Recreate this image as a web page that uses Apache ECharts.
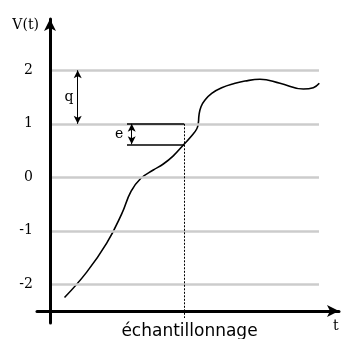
<!DOCTYPE html>
<html>
<head>
<meta charset="utf-8">
<script src="https://cdn.jsdelivr.net/npm/echarts@6/dist/echarts.min.js"></script>
<style>
html,body{margin:0;padding:0;background:#fff;}
#c{width:345px;height:339px;}
</style>
</head>
<body>
<div id="c"></div>
<script>
// ---- data ----
const curveT = [0.502, 1.270, 1.962, 2.481, 2.803, 3.138, 3.574, 3.920, 4.266, 4.637, 4.903, 5.076, 5.131, 5.156, 5.225, 5.363, 5.595, 5.941, 6.401, 6.747, 7.266, 7.958, 8.765, 9.111, 9.318];
const curveV = [-2.247, -1.772, -1.230, -0.682, -0.262, -0.022, 0.136, 0.249, 0.402, 0.617, 0.776, 0.903, 1.009, 1.164, 1.320, 1.445, 1.570, 1.675, 1.757, 1.800, 1.832, 1.757, 1.650, 1.675, 1.757];
const levels = [-2, -1, 0, 1, 2];
const yTickLabels = ['-2', '-1', '0', '1', '2'];
const sampleT = [4.637];
const sampleV = [0.617];
const sampleLevel = [1];
const quantumLevels = [1, 2];
const xLabel = 'échantillonnage';
const yName = 'V(t)';
const xName = 't';

// ---- layout constants ----
const tMin = -0.45, tMax = 10, vMin = -2.723, vMax = 2.959;
const gridStart = 0.069, gridEnd = 9.308;
const qT = 0.958, qLabelT = 0.657;
const rectLeftT = 2.664, eArrowT = 2.827, eLabelT = 2.39;
const dottedBottomV = -2.63;

const serif = 'DejaVu Serif';
const black = '#000';

const chart = echarts.init(document.getElementById('c'), null, {renderer: 'canvas'});

const annotLines = [
  [{coord: [sampleT[0], sampleLevel[0]], symbol: 'none', lineStyle: {type: [2, 1.5], width: 1, color: black}},
   {coord: [sampleT[0], dottedBottomV], symbol: 'none'}],
  [{coord: [rectLeftT, sampleLevel[0]], symbol: 'none', lineStyle: {type: 'solid', width: 1.5, color: black}},
   {coord: [sampleT[0], sampleLevel[0]], symbol: 'none'}],
  [{coord: [rectLeftT, sampleV[0]], symbol: 'none', lineStyle: {type: 'solid', width: 1.5, color: black}},
   {coord: [sampleT[0], sampleV[0]], symbol: 'none'}],
  [{coord: [eArrowT, sampleLevel[0]], symbol: 'arrow', lineStyle: {type: 'solid', width: 1, color: black}},
   {coord: [eArrowT, sampleV[0]], symbol: 'arrow'}],
  [{coord: [qT, quantumLevels[1]], symbol: 'arrow', lineStyle: {type: 'solid', width: 1, color: black}},
   {coord: [qT, quantumLevels[0]], symbol: 'arrow'}]
];

const option = {
  animation: false,
  backgroundColor: '#fff',
  grid: {left: 37, right: 6, top: 19, bottom: 16, containLabel: false, outerBoundsMode: 'none'},
  xAxis: {
    type: 'value', min: tMin, max: tMax,
    offset: -12,
    axisLine: {show: true, onZero: false, lineStyle: {color: black, width: 3}, symbol: ['none', 'arrow'], symbolSize: [9, 12]},
    axisTick: {show: false},
    splitLine: {show: false},
    axisLabel: {
      show: true, customValues: sampleT, formatter: function () { return xLabel; },
      color: black, fontFamily: 'DejaVu Sans', fontSize: 17, margin: 12, padding: [0, 0, 0, 11]
    },
    name: xName, nameLocation: 'end', nameGap: -6,
    nameTextStyle: {fontFamily: serif, fontSize: 14, color: black, align: 'left', verticalAlign: 'top', padding: [8, 0, 0, 0]}
  },
  yAxis: {
    type: 'value', min: vMin, max: vMax,
    axisLine: {show: true, onZero: true, lineStyle: {color: black, width: 3}, symbol: ['none', 'arrow'], symbolSize: [9, 12]},
    axisTick: {show: false},
    splitLine: {show: false},
    axisLabel: {
      show: true, customValues: levels,
      formatter: function (v) { const i = levels.indexOf(Math.round(v)); return i >= 0 ? yTickLabels[i] : ''; },
      color: black, fontFamily: serif, fontSize: 14, margin: 4
    },
    name: yName, nameLocation: 'end', nameGap: -6,
    nameTextStyle: {fontFamily: serif, fontSize: 14, color: black, align: 'right', verticalAlign: 'middle', padding: [0, 11, 0, 0]}
  },
  series: [
    {
      name: 'levels', type: 'line', data: [], z: 1, silent: true,
      markLine: {
        silent: true, symbol: 'none', animation: false,
        label: {show: false},
        lineStyle: {color: '#cccccc', width: 2.5, type: 'solid'},
        data: levels.map(v => [{coord: [gridStart, v]}, {coord: [gridEnd, v]}])
      }
    },
    {
      name: 'V', type: 'line', z: 3, silent: true,
      data: curveT.map((t, i) => [t, curveV[i]]),
      smooth: 0.45, symbol: 'none', showSymbol: false,
      lineStyle: {color: black, width: 1.6}
    },
    {
      name: 'annot', type: 'line', data: [], z: 4, silent: true,
      markLine: {
        silent: true, animation: false, symbolSize: [6, 8],
        label: {show: false},
        data: annotLines
      },
      markPoint: {
        silent: true, animation: false, symbol: 'circle', symbolSize: 0,
        label: {show: true, position: 'inside', fontFamily: serif, fontSize: 14, color: black, formatter: p => p.name},
        data: [
          {name: 'q', coord: [qLabelT, (quantumLevels[0] + quantumLevels[1]) / 2]},
          {name: 'e', coord: [eLabelT, (sampleLevel[0] + sampleV[0]) / 2]}
        ]
      }
    }
  ]
};
chart.setOption(option);
</script>
</body>
</html>
